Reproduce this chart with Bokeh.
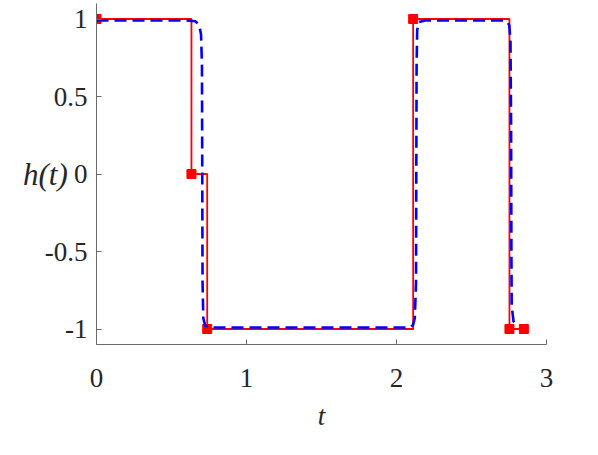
from bokeh.plotting import figure
from bokeh.models import Range1d, Label, FixedTicker, CustomJSTickFormatter
from bokeh.embed import file_html
from bokeh.resources import INLINE

# Red piecewise-constant approximation (step points)
red_t = [0.0, 0.633, 0.738, 2.111, 2.753, 2.849]
red_h = [1.0, 0.0, -1.0, 1.0, -1.0, -1.0]

# Blue dashed smooth solution
blue_t = [0.0, 0.30, 0.60, 0.66, 0.685, 0.697, 0.703, 0.705, 0.707, 0.712, 0.725, 0.76,
          1.20, 1.60, 2.00, 2.09, 2.11, 2.122, 2.13, 2.132, 2.134, 2.138, 2.15, 2.19,
          2.40, 2.70, 2.735, 2.752, 2.76, 2.764, 2.766, 2.768, 2.78, 2.795, 2.81]
blue_h = [0.99, 0.99, 0.99, 0.985, 0.96, 0.9, 0.7, 0.0, -0.7, -0.93, -0.98, -0.99,
          -0.99, -0.99, -0.99, -0.99, -0.975, -0.93, -0.7, 0.0, 0.7, 0.93, 0.98, 0.99,
          0.99, 0.99, 0.985, 0.96, 0.85, 0.3, -0.5, -0.85, -0.95, -0.975, -0.98]

x_ticks = [0, 1, 2, 3]
y_ticks = [-1, -0.5, 0, 0.5, 1]

FONT = "Liberation Serif"
W, H = 590, 447

p = figure(width=W, height=H, output_backend="svg", toolbar_location=None,
           x_range=Range1d(0, 3), y_range=Range1d(-1.1, 1.1),
           min_border_left=96, min_border_right=W - 546, min_border_top=3,
           min_border_bottom=H - 344)
p.outline_line_color = None
p.grid.visible = False
p.background_fill_color = "white"
p.border_fill_color = "white"

p.step(red_t, red_h, mode="after", line_color="red", line_width=1.8)
p.scatter(red_t, red_h, marker="square", size=9, fill_color="red", line_color="red")
p.line(blue_t, blue_h, line_color="blue", line_width=2.6, line_dash="12 6")

fmt = CustomJSTickFormatter(code="return tick.toString();")
p.xaxis.ticker = FixedTicker(ticks=x_ticks)
p.yaxis.ticker = FixedTicker(ticks=y_ticks)
for ax in (p.xaxis[0], p.yaxis[0]):
    ax.formatter = fmt
    ax.major_tick_in = 5
    ax.major_tick_out = 0
    ax.minor_tick_line_color = None
    ax.axis_line_color = "#6b6b6b"
    ax.major_tick_line_color = "#6b6b6b"
    ax.major_label_text_font = FONT
    ax.major_label_text_font_size = "27px"
    ax.major_label_text_color = "#262626"

p.xaxis.major_label_standoff = 24
p.yaxis.major_label_standoff = 9

p.xaxis.axis_label = "t"
p.xaxis.axis_label_text_font = FONT
p.xaxis.axis_label_text_font_style = "italic"
p.xaxis.axis_label_text_font_size = "27px"
p.xaxis.axis_label_text_color = "#262626"
p.xaxis.axis_label_standoff = 11

ya = p.yaxis[0]
try:
    ya.axis_label_orientation = "horizontal"
    ya.axis_label = "h(t)"
    ya.axis_label_text_font = FONT
    ya.axis_label_text_font_style = "italic"
    ya.axis_label_text_font_size = "31px"
    ya.axis_label_text_color = "#262626"
    ya.axis_label_standoff = -26
except Exception:
    ya.axis_label = None
    p.add_layout(Label(x=-0.4, y=-0.05, text="h(t)", text_font=FONT,
                       text_font_style="italic", text_font_size="31px",
                       text_color="#262626", text_align="center",
                       text_baseline="middle"))

open("out.html", "w").write(file_html(p, INLINE))
